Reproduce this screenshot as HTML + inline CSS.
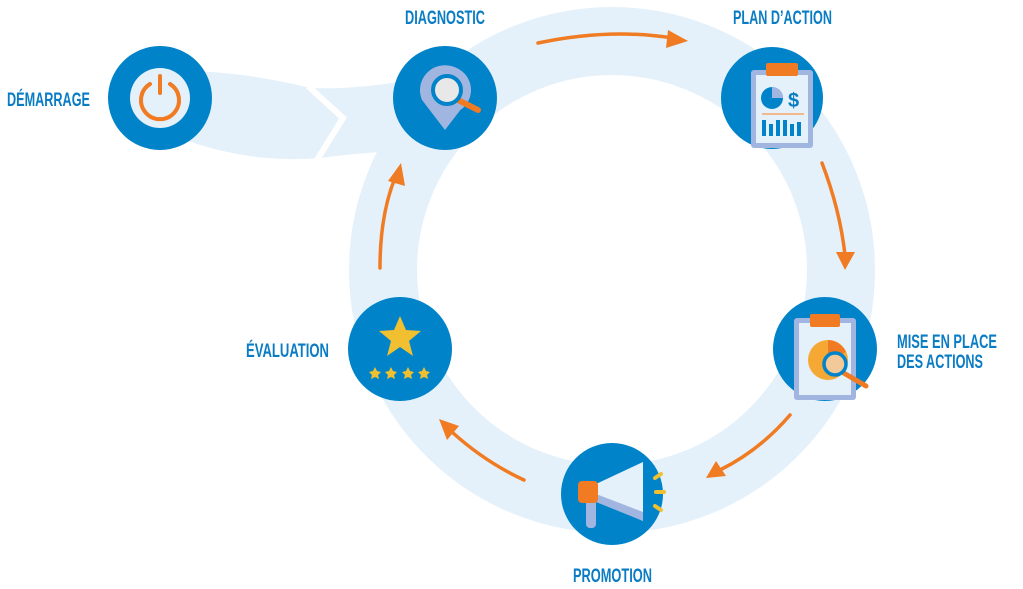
<!DOCTYPE html>
<html><head><meta charset="utf-8"><style>
html,body{margin:0;padding:0;background:#fff}
svg{display:block}
text{font-family:"Liberation Sans",sans-serif;font-weight:bold;fill:#0a7cc4;font-size:19px}
</style></head><body>
<svg width="1023" height="589" viewBox="0 0 1023 589">
<!-- ring -->
<circle cx="612" cy="270" r="229" fill="none" stroke="#e4f1fa" stroke-width="68"/>
<!-- start band -->
<path d="M160,70 Q240,70 310,88 Q360,90 420,78 L440,150 Q380,150 320,158 Q240,165 160,130 Z" fill="#e4f1fa"/>
<polyline points="308,86 343,118 317,160" fill="none" stroke="#fff" stroke-width="6"/>
<!-- arrows -->
<g fill="none" stroke="#f07b22" stroke-width="3.5" stroke-linecap="round">
<path d="M538,43 Q610,28 672,38"/>
<path d="M822,163 Q840,210 845,255"/>
<path d="M790,415 Q760,450 720,470"/>
<path d="M524,480 Q485,462 452,432"/>
<path d="M380,268 Q380,215 395,178"/>
</g>
<g fill="#f07b22">
<polygon points="688,41 668,30 666,48"/>
<polygon points="845,270 836,252 855,252"/>
<polygon points="706,478 716,461 726,476"/>
<polygon points="439,419 459,426 447,440"/>
<polygon points="401,163 405,186 388,181"/>
</g>
<!-- circles -->
<g fill="#0083c9">
<circle cx="160" cy="98" r="52"/>
<circle cx="445" cy="98" r="52"/>
<circle cx="772" cy="98" r="51"/>
<circle cx="825" cy="349" r="52"/>
<circle cx="612" cy="494" r="51"/>
<circle cx="400" cy="349" r="52"/>
</g>
<!-- power icon -->
<circle cx="160" cy="98" r="30" fill="#e4f1fa"/>
<path d="M150,84 A19,19 0 1,0 170,84" fill="none" stroke="#f07b22" stroke-width="4" stroke-linecap="round"/>
<line x1="160" y1="76" x2="160" y2="93" stroke="#f07b22" stroke-width="4" stroke-linecap="round"/>
<!-- diagnostic -->
<path d="M445,130 L422,100 A25,25 0 1,1 468,100 Z" fill="#a0b6e0"/>
<circle cx="447" cy="90" r="24" fill="#a0b6e0"/>
<line x1="458" y1="100" x2="478" y2="110" stroke="#f07b22" stroke-width="6" stroke-linecap="round"/>
<circle cx="447" cy="90" r="14" fill="#e8e8e8" stroke="#0083c9" stroke-width="4"/>
<!-- plan d'action clipboard -->
<rect x="751" y="70" width="62" height="78" rx="3" fill="#a0b6e0"/>
<rect x="756" y="75" width="52" height="68" fill="#e4f1fa"/>
<rect x="766" y="63" width="32" height="13" rx="2" fill="#f07b22"/>
<circle cx="772" cy="98" r="11" fill="#0083c9"/>
<path d="M772,98 L772,87 A11,11 0 0,1 783,98 Z" fill="#a0b6e0"/>
<text x="788" y="107" style="font-size:20px">$</text>
<line x1="762" y1="114" x2="804" y2="114" stroke="#f5a66a" stroke-width="1.5"/>
<g fill="#0083c9"><rect x="762" y="120" width="4" height="16"/><rect x="769" y="124" width="4" height="12"/><rect x="776" y="120" width="4" height="16"/><rect x="783" y="120" width="4" height="16"/><rect x="790" y="124" width="4" height="12"/><rect x="797" y="122" width="4" height="14"/></g>
<!-- mise en place clipboard -->
<rect x="794" y="318" width="62" height="82" rx="3" fill="#a0b6e0"/>
<rect x="799" y="323" width="52" height="72" fill="#e4f1fa"/>
<rect x="810" y="314" width="30" height="13" rx="2" fill="#f07b22"/>
<circle cx="828" cy="360" r="20" fill="#f5a833"/>
<path d="M828,360 L828,340 A20,20 0 0,1 846,352 Z" fill="#f07b22"/>
<line x1="842" y1="372" x2="866" y2="386" stroke="#f07b22" stroke-width="5" stroke-linecap="round"/>
<circle cx="835" cy="364" r="11" fill="#f3c99a" stroke="#0083c9" stroke-width="3.5"/>
<!-- promotion megaphone -->
<polygon points="596,484 643,462 643,521 596,500" fill="#e4f1fa"/>
<polygon points="596,494 643,512 643,521 596,502" fill="#a0b6e0"/>
<rect x="586" y="495" width="10" height="33" rx="4" fill="#a0b6e0"/>
<rect x="578" y="481" width="20" height="22" rx="4" fill="#f07b22"/>
<g stroke="#f0c030" stroke-width="4" stroke-linecap="round"><line x1="655" y1="478" x2="661" y2="474"/><line x1="656" y1="492" x2="664" y2="492"/><line x1="655" y1="506" x2="661" y2="510"/></g>
<!-- evaluation stars -->
<polygon points="400,316 406,330 421,331 409,341 413,356 400,347 387,356 391,341 379,331 394,330" fill="#f0c030"/>
<g fill="#f0c030">
<polygon points="375,367 377,371 381,372 378,375 379,379 375,377 371,379 372,375 369,372 373,371"/>
<polygon points="391,367 393,371 397,372 394,375 395,379 391,377 387,379 388,375 385,372 389,371"/>
<polygon points="408,367 410,371 414,372 411,375 412,379 408,377 404,379 405,375 402,372 406,371"/>
<polygon points="424,367 426,371 430,372 427,375 428,379 424,377 420,379 421,375 418,372 422,371"/>
</g>
<!-- labels -->
<text x="7" y="106" textLength="83" lengthAdjust="spacingAndGlyphs">DÉMARRAGE</text>
<text x="405" y="24" textLength="80" lengthAdjust="spacingAndGlyphs">DIAGNOSTIC</text>
<text x="733" y="24" textLength="99" lengthAdjust="spacingAndGlyphs">PLAN D’ACTION</text>
<text x="897" y="348" textLength="100" lengthAdjust="spacingAndGlyphs">MISE EN PLACE</text>
<text x="897" y="368" textLength="86" lengthAdjust="spacingAndGlyphs">DES ACTIONS</text>
<text x="246" y="357" textLength="83" lengthAdjust="spacingAndGlyphs">ÉVALUATION</text>
<text x="573" y="582" textLength="79" lengthAdjust="spacingAndGlyphs">PROMOTION</text>
</svg>
</body></html>
